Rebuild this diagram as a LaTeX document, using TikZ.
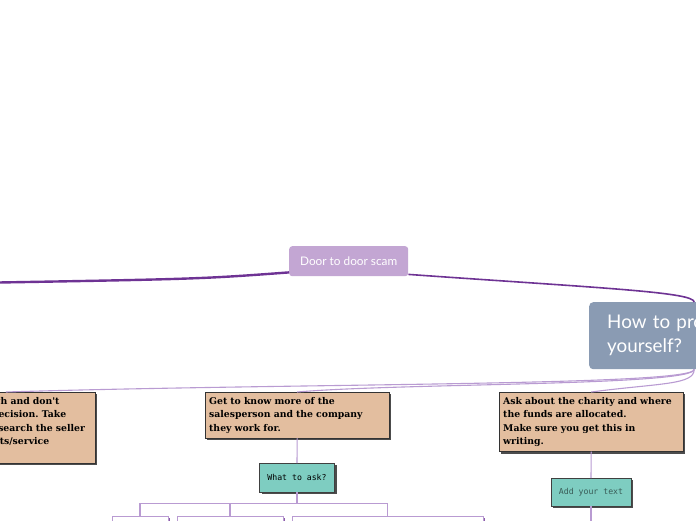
\documentclass[tikz,border=0pt]{standalone}
\usepackage{fontspec}
\setmainfont{DejaVu Serif}
\newfontfamily\topicfont{Lato}
\newfontfamily\notefont{DejaVu Serif}
\newfontfamily\askfont{DejaVu Sans Mono}
\usetikzlibrary{shadows}
\frenchspacing

\definecolor{lilac}{HTML}{C3A6D3}
\definecolor{plum}{HTML}{6E3394}
\definecolor{twigline}{HTML}{B99BD2}
\definecolor{slate}{HTML}{8A9BB3}
\definecolor{notetan}{HTML}{E3BE9F}
\definecolor{mint}{HTML}{7ECDC1}

\begin{document}
\begin{tikzpicture}[x=1pt, y=-1pt,
    topic/.style={fill=lilac, rounded corners=3pt, text=white,
                  minimum width=119pt, minimum height=30pt,
                  font=\topicfont\fontsize{11.8}{13}\selectfont},
    sub/.style={fill=slate, rounded corners=4pt, text=white,
                minimum height=67pt, inner xsep=18pt,
                text width=174pt, align=left,
                font=\topicfont\fontsize{18.8}{24}\selectfont},
    note/.style={draw=black!80, fill=notetan, text width=176pt,
                 inner xsep=4pt, inner ysep=5pt, align=left,
                 general shadow={fill=black!70, shadow xshift=2pt, shadow yshift=-2pt},
                 font=\notefont\bfseries\fontsize{9.3}{13.4}\selectfont},
    ask/.style={draw=black!75, fill=mint, inner sep=2pt,
                general shadow={fill=black!70, shadow xshift=2pt, shadow yshift=-2pt},
                font=\askfont\fontsize{8.2}{10}\selectfont},
    kid/.style={draw=twigline, fill=white, minimum height=30pt,
                general shadow={fill=plum!80, shadow xshift=2pt, shadow yshift=-2pt}},
    trunk/.style={draw=plum, line width=2.4pt},
    branch/.style={draw=plum, line width=1.6pt},
    link/.style={draw=twigline, line width=1.1pt}
  ]
  \useasboundingbox (0,0) rectangle (696,520);
  \clip (0,0) rectangle (696,520);
  %% Central topic and its two sides
  \node[topic, anchor=north west] (scam) at (289,246) {Door to door scam};
  \coordinate (lefttopic) at (-30,283);
  \node[sub, anchor=north west] (how) at (589,302) {How to protect yourself?};
  \draw[trunk] ([yshift=4pt]scam.south west) .. controls (200,279) .. (lefttopic);
  \draw[branch] ([yshift=2pt]scam.south east) .. controls (600,288) and (694,292) .. (how.north);
  %% Advice notes
  \node[note, anchor=north east, text width=170pt] (rush) at (95,392)
    {Think it through and don't\\make a hasty decision. Take\\your time to research the seller\\and the products/service\\\mbox{}};
  \node[note, anchor=north west] (know) at (205,392)
    {Get to know more of the\\salesperson and the company\\they work for.};
  \node[note, anchor=north west] (charity) at (499,392)
    {Ask about the charity and where\\the funds are allocated.\\Make sure you get this in\\writing.};
  \draw[link] (how.south) .. controls (694,386) and (300,383) .. (rush.north);
  \draw[link] (how.south) .. controls (694,386) and (400,383) .. (know.north);
  \draw[link] (how.south) .. controls (694,385) and (660,383) .. (charity.north);
  %% What to ask
  \node[ask, anchor=north, minimum width=75pt, minimum height=29pt] (what) at (297,463) {What to ask?};
  \draw[link] (know.south) -- (what.north);
  \node[kid, anchor=north, minimum width=56pt] (kid1) at (140,516) {};
  \node[kid, anchor=north, minimum width=106pt] (kid2) at (230,516) {};
  \node[kid, anchor=north, minimum width=191pt] (kid3) at (387.5,516) {};
  \draw[link] (what.south) -- ++(0,11) coordinate (fork);
  \draw[link] (fork) -| (kid1.north);
  \draw[link] (fork) -| (kid2.north);
  \draw[link] (fork) -| (kid3.north);
  %% Placeholder under the charity note
  \node[ask, anchor=north, minimum width=80pt, minimum height=28pt, text=black!55!mint] (addtext) at (591,478) {Add your text};
  \coordinate (addkid) at (591,530);
  \draw[link] (charity.south) -- (addtext.north);
  \draw[link] (addtext.south) -- (addkid);
\end{tikzpicture}
\end{document}
